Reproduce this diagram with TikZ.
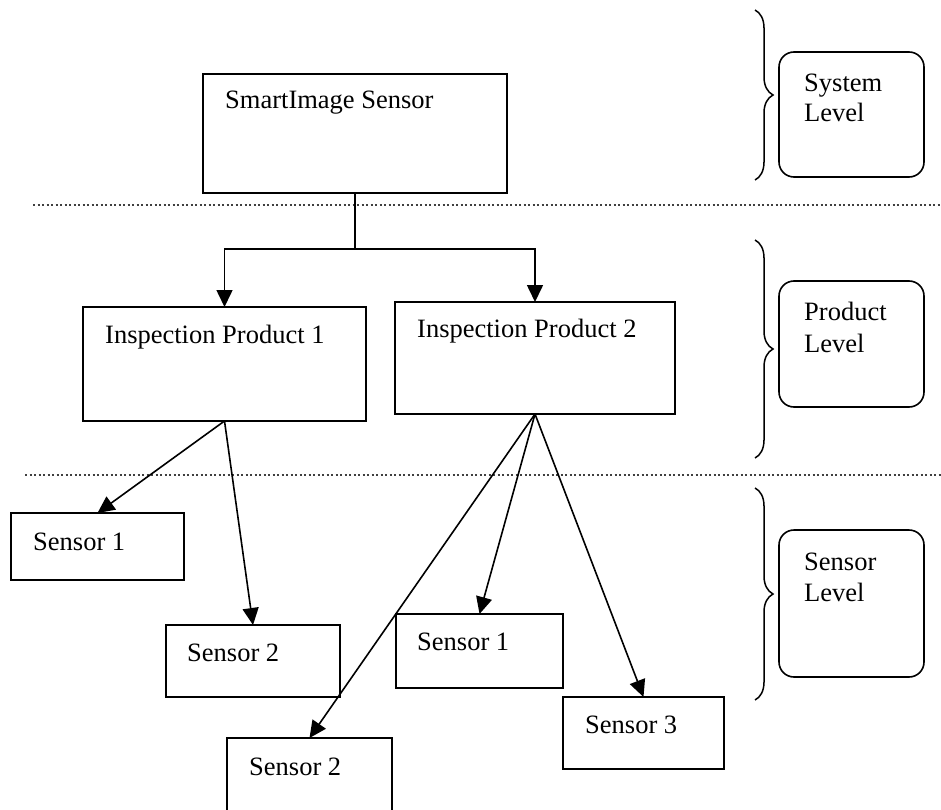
\documentclass[tikz,border=0pt]{standalone}
\usepackage{fontspec}
\setmainfont{Liberation Serif}
\usetikzlibrary{arrows.meta}
\usetikzlibrary{decorations.pathreplacing}

\begin{document}
\begin{tikzpicture}[x=1pt, y=-1pt,
    box/.style={draw, line width=1.6pt, inner sep=0pt, outer sep=0pt},
    lvl/.style={box, rounded corners=15pt, minimum width=145pt},
    txt/.style={anchor=base west, inner sep=0pt, font=\fontsize{26.5}{31}\selectfont},
    arr/.style={line width=1.6pt, -{Triangle[length=17pt,width=16pt]}},
    sep/.style={line width=1.5pt, dash pattern=on 2pt off 2.5pt, black!75},
    brc/.style={line width=1.5pt, decorate, decoration={brace, amplitude=18pt}}]

    \useasboundingbox (0,0) rectangle (941,810);

    % boxes
    \node[box, minimum width=304pt, minimum height=119pt] at (355,133.5) (smart) {};
    \node[box, minimum width=283pt, minimum height=114pt] at (224.5,364) (ip1) {};
    \node[box, minimum width=280pt, minimum height=112pt] at (535,358) (ip2) {};
    \node[box, minimum width=173pt, minimum height=67pt] at (97.5,546.5) (s11) {};
    \node[box, minimum width=174pt, minimum height=72pt] at (253,661) (s12) {};
    \node[box, minimum width=167pt, minimum height=74pt] at (479.5,651) (s21) {};
    \node[box, minimum width=165pt, minimum height=80pt] at (309.5,778) (s22) {};
    \node[box, minimum width=161pt, minimum height=72pt] at (643.5,733) (s23) {};

    \node[txt] at (225,109) (smartt) {SmartImage Sensor};
    \node[txt] at (105,343) (ip1t) {Inspection Product 1};
    \node[txt] at (417,337) (ip2t) {Inspection Product 2};
    \node[txt] at (33,550) (s11t) {Sensor 1};
    \node[txt] at (187,661) (s12t) {Sensor 2};
    \node[txt] at (417,650) (s21t) {Sensor 1};
    \node[txt] at (249,775) (s22t) {Sensor 2};
    \node[txt] at (585,733) (s23t) {Sensor 3};

    % levels
    \node[lvl, minimum height=125pt] at (851.5,114.5) (sys) {};
    \node[lvl, minimum height=126pt] at (851.5,344) (prod) {};
    \node[lvl, minimum height=147pt] at (851.5,603.5) (sens) {};
    \node[txt] at (804,92) (sysa) {System};
    \node[txt] at (804,122) (sysb) {Level};
    \node[txt] at (804,320) (proda) {Product};
    \node[txt] at (804,352) (prodb) {Level};
    \node[txt] at (804,570) (sensa) {Sensor};
    \node[txt] at (804,601) (sensb) {Level};

    \draw[brc] (755,10) -- (755,180);
    \draw[brc] (755,240) -- (755,458);
    \draw[brc] (755,488) -- (755,700);

    \draw[sep] (33,205) -- (941,205);
    \draw[sep] (25,475) -- (941,475);

    % connectors
    \coordinate (fork) at (355,249);
    \draw[line width=1.6pt] (smart.south) -- (fork);
    \draw[arr] (fork) -| (ip1.north);
    \draw[arr] (fork) -| (ip2.north);
    \draw[arr] (ip1.south) -- (s11.north);
    \draw[arr] (ip1.south) -- (s12.north);
    \draw[arr] (ip2.south) -- (s21.north);
    \draw[arr] (ip2.south) -- (s22.north);
    \draw[arr] (ip2.south) -- (s23.north);

\end{tikzpicture}
\end{document}
